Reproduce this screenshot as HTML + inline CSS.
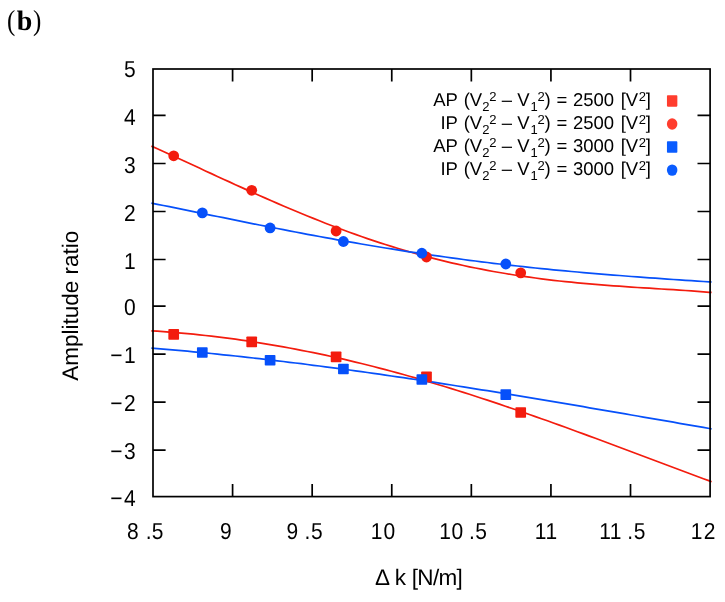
<!DOCTYPE html>
<html><head><meta charset="utf-8"><title>b</title>
<style>
html,body{margin:0;padding:0;background:#fff;}
body{width:725px;height:602px;overflow:hidden;}
svg{display:block;will-change:transform;}
text{font-family:"Liberation Sans",sans-serif;fill:#000;text-rendering:geometricPrecision;}
.ser{font-family:"Liberation Serif",serif;}
.m{text-anchor:middle;}
</style></head><body>
<svg width="725" height="602" viewBox="0 0 725 602">
<rect width="725" height="602" fill="#fff"/>
<text class="ser" transform="translate(7.1 30) scale(0.86 1)" font-size="29">(</text><text class="ser" x="16.8" y="30" font-size="28" font-weight="bold">b</text><text class="ser" transform="translate(33.0 30) scale(0.86 1)" font-size="29">)</text>
<g fill="none" stroke-width="1.70" stroke-linejoin="round">
<path stroke="#f31c0e" d="M151.4 330.8 L157.4 331.2 L163.4 331.6 L169.4 332.1 L175.4 332.6 L181.4 333.1 L187.4 333.6 L193.4 334.2 L199.4 334.8 L205.4 335.5 L211.4 336.2 L217.4 336.9 L223.4 337.6 L229.4 338.4 L235.4 339.2 L241.4 340.1 L247.4 340.9 L253.4 341.9 L259.4 342.8 L265.4 343.8 L271.4 344.8 L277.4 345.8 L283.4 346.9 L289.4 348.0 L295.4 349.1 L301.4 350.3 L307.4 351.5 L313.4 352.7 L319.4 353.9 L325.4 355.2 L331.4 356.5 L337.4 357.9 L343.4 359.2 L349.4 360.6 L355.4 362.1 L361.4 363.5 L367.4 365.0 L373.4 366.5 L379.4 368.1 L385.4 369.6 L391.4 371.2 L397.4 372.9 L403.4 374.5 L409.4 376.2 L415.4 377.9 L421.4 379.6 L427.4 381.4 L433.4 383.2 L439.4 385.0 L445.4 386.8 L451.4 388.6 L457.4 390.5 L463.4 392.4 L469.4 394.3 L475.4 396.2 L481.4 398.2 L487.4 400.1 L493.4 402.1 L499.4 404.1 L505.4 406.2 L511.4 408.2 L517.4 410.3 L523.4 412.4 L529.4 414.5 L535.4 416.6 L541.4 418.7 L547.4 420.8 L553.4 423.0 L559.4 425.1 L565.4 427.3 L571.4 429.5 L577.4 431.7 L583.4 433.9 L589.4 436.1 L595.4 438.3 L601.4 440.5 L607.4 442.8 L613.4 445.0 L619.4 447.3 L625.4 449.5 L631.4 451.8 L637.4 454.0 L643.4 456.3 L649.4 458.5 L655.4 460.8 L661.4 463.0 L667.4 465.3 L673.4 467.5 L679.4 469.8 L685.4 472.0 L691.4 474.2 L697.4 476.5 L703.4 478.7 L709.4 480.9 L711.6 481.7"/>
<path stroke="#f31c0e" d="M151.4 146.1 L157.4 148.8 L163.4 151.5 L169.4 154.3 L175.4 157.0 L181.4 159.8 L187.4 162.5 L193.4 165.3 L199.4 168.1 L205.4 170.9 L211.4 173.6 L217.4 176.4 L223.4 179.2 L229.4 181.9 L235.4 184.7 L241.4 187.4 L247.4 190.1 L253.4 192.8 L259.4 195.5 L265.4 198.1 L271.4 200.8 L277.4 203.4 L283.4 206.0 L289.4 208.5 L295.4 211.0 L301.4 213.5 L307.4 216.0 L313.4 218.4 L319.4 220.8 L325.4 223.2 L331.4 225.5 L337.4 227.8 L343.4 230.0 L349.4 232.2 L355.4 234.4 L361.4 236.5 L367.4 238.6 L373.4 240.6 L379.4 242.6 L385.4 244.5 L391.4 246.4 L397.4 248.3 L403.4 250.1 L409.4 251.8 L415.4 253.5 L421.4 255.2 L427.4 256.8 L433.4 258.4 L439.4 259.9 L445.4 261.4 L451.4 262.8 L457.4 264.2 L463.4 265.5 L469.4 266.8 L475.4 268.0 L481.4 269.2 L487.4 270.4 L493.4 271.5 L499.4 272.5 L505.4 273.5 L511.4 274.5 L517.4 275.5 L523.4 276.4 L529.4 277.2 L535.4 278.0 L541.4 278.8 L547.4 279.6 L553.4 280.3 L559.4 281.0 L565.4 281.6 L571.4 282.2 L577.4 282.8 L583.4 283.4 L589.4 283.9 L595.4 284.4 L601.4 284.9 L607.4 285.4 L613.4 285.8 L619.4 286.2 L625.4 286.7 L631.4 287.1 L637.4 287.5 L643.4 287.8 L649.4 288.2 L655.4 288.6 L661.4 289.0 L667.4 289.4 L673.4 289.7 L679.4 290.1 L685.4 290.5 L691.4 290.9 L697.4 291.4 L703.4 291.8 L709.4 292.3 L711.6 292.4"/>
<path stroke="#0650fa" d="M151.4 348.1 L157.4 348.6 L163.4 349.1 L169.4 349.6 L175.4 350.1 L181.4 350.7 L187.4 351.2 L193.4 351.8 L199.4 352.4 L205.4 352.9 L211.4 353.5 L217.4 354.2 L223.4 354.8 L229.4 355.4 L235.4 356.0 L241.4 356.7 L247.4 357.4 L253.4 358.0 L259.4 358.7 L265.4 359.4 L271.4 360.1 L277.4 360.8 L283.4 361.5 L289.4 362.3 L295.4 363.0 L301.4 363.7 L307.4 364.5 L313.4 365.3 L319.4 366.0 L325.4 366.8 L331.4 367.6 L337.4 368.4 L343.4 369.2 L349.4 370.0 L355.4 370.8 L361.4 371.7 L367.4 372.5 L373.4 373.4 L379.4 374.2 L385.4 375.1 L391.4 376.0 L397.4 376.8 L403.4 377.7 L409.4 378.6 L415.4 379.5 L421.4 380.4 L427.4 381.3 L433.4 382.2 L439.4 383.1 L445.4 384.1 L451.4 385.0 L457.4 386.0 L463.4 386.9 L469.4 387.8 L475.4 388.8 L481.4 389.8 L487.4 390.7 L493.4 391.7 L499.4 392.7 L505.4 393.7 L511.4 394.6 L517.4 395.6 L523.4 396.6 L529.4 397.6 L535.4 398.6 L541.4 399.6 L547.4 400.6 L553.4 401.6 L559.4 402.7 L565.4 403.7 L571.4 404.7 L577.4 405.7 L583.4 406.7 L589.4 407.8 L595.4 408.8 L601.4 409.8 L607.4 410.8 L613.4 411.9 L619.4 412.9 L625.4 413.9 L631.4 415.0 L637.4 416.0 L643.4 417.1 L649.4 418.1 L655.4 419.1 L661.4 420.2 L667.4 421.2 L673.4 422.2 L679.4 423.3 L685.4 424.3 L691.4 425.4 L697.4 426.4 L703.4 427.4 L709.4 428.5 L711.6 428.8"/>
<path stroke="#0650fa" d="M151.4 203.1 L157.4 204.3 L163.4 205.5 L169.4 206.7 L175.4 207.9 L181.4 209.2 L187.4 210.4 L193.4 211.6 L199.4 212.8 L205.4 214.1 L211.4 215.3 L217.4 216.5 L223.4 217.7 L229.4 218.9 L235.4 220.2 L241.4 221.4 L247.4 222.6 L253.4 223.8 L259.4 225.0 L265.4 226.1 L271.4 227.3 L277.4 228.5 L283.4 229.7 L289.4 230.8 L295.4 232.0 L301.4 233.1 L307.4 234.3 L313.4 235.4 L319.4 236.5 L325.4 237.6 L331.4 238.7 L337.4 239.8 L343.4 240.8 L349.4 241.9 L355.4 242.9 L361.4 244.0 L367.4 245.0 L373.4 246.0 L379.4 247.0 L385.4 248.0 L391.4 248.9 L397.4 249.9 L403.4 250.8 L409.4 251.8 L415.4 252.7 L421.4 253.6 L427.4 254.5 L433.4 255.3 L439.4 256.2 L445.4 257.0 L451.4 257.9 L457.4 258.7 L463.4 259.5 L469.4 260.3 L475.4 261.0 L481.4 261.8 L487.4 262.5 L493.4 263.3 L499.4 264.0 L505.4 264.7 L511.4 265.4 L517.4 266.0 L523.4 266.7 L529.4 267.3 L535.4 268.0 L541.4 268.6 L547.4 269.2 L553.4 269.8 L559.4 270.4 L565.4 270.9 L571.4 271.5 L577.4 272.0 L583.4 272.6 L589.4 273.1 L595.4 273.6 L601.4 274.1 L607.4 274.6 L613.4 275.1 L619.4 275.5 L625.4 276.0 L631.4 276.5 L637.4 276.9 L643.4 277.4 L649.4 277.8 L655.4 278.2 L661.4 278.7 L667.4 279.1 L673.4 279.5 L679.4 279.9 L685.4 280.3 L691.4 280.7 L697.4 281.1 L703.4 281.5 L709.4 281.9 L711.6 282.0"/>
</g>
<g stroke="#000" stroke-width="1.70" fill="none" stroke-linecap="butt">
<rect x="153.00" y="69.00" width="557.10" height="427.60"/>
<path d="M153.00 115.40 h12.60 M710.10 115.40 h-12.60"/>
<path d="M153.00 163.50 h12.60 M710.10 163.50 h-12.60"/>
<path d="M153.00 211.50 h12.60 M710.10 211.50 h-12.60"/>
<path d="M153.00 259.50 h12.60 M710.10 259.50 h-12.60"/>
<path d="M153.00 306.05 h12.60 M710.10 306.05 h-12.60"/>
<path d="M153.00 354.05 h12.60 M710.10 354.05 h-12.60"/>
<path d="M153.00 402.10 h12.60 M710.10 402.10 h-12.60"/>
<path d="M153.00 450.10 h12.60 M710.10 450.10 h-12.60"/>
<path d="M232.59 496.60 v-12.60 M232.59 69.00 v12.60"/>
<path d="M312.17 496.60 v-12.60 M312.17 69.00 v12.60"/>
<path d="M391.76 496.60 v-12.60 M391.76 69.00 v12.60"/>
<path d="M471.34 496.60 v-12.60 M471.34 69.00 v12.60"/>
<path d="M550.93 496.60 v-12.60 M550.93 69.00 v12.60"/>
<path d="M630.51 496.60 v-12.60 M630.51 69.00 v12.60"/>
</g>
<g font-size="21" class="m" transform="scale(1 1.1)">
<text x="129.85" y="69.73">5</text>
<text x="129.85" y="113.36">4</text>
<text x="129.85" y="157.09">3</text>
<text x="129.85" y="200.73">2</text>
<text x="129.85" y="244.36">1</text>
<text x="129.85" y="286.68">0</text>
<text x="129.85" y="330.32">1</text>
<text x="116.5" y="330.32">−</text>
<text x="129.85" y="374.00">2</text>
<text x="116.5" y="374.00">−</text>
<text x="129.85" y="417.64">3</text>
<text x="116.5" y="417.64">−</text>
<text x="129.85" y="459.91">4</text>
<text x="116.5" y="459.91">−</text>
<text x="132.90" y="489.64">8</text>
<text x="148.55" y="489.64">.</text>
<text x="157.65" y="489.64">5</text>
<text x="225.80" y="489.64">9</text>
<text x="292.25" y="489.64">9</text>
<text x="307.35" y="489.64">.</text>
<text x="316.85" y="489.64">5</text>
<text x="376.70" y="489.64">1</text>
<text x="389.24" y="489.64">0</text>
<text x="445.05" y="489.64">1</text>
<text x="457.30" y="489.64">0</text>
<text x="471.85" y="489.64">.</text>
<text x="481.10" y="489.64">5</text>
<text x="540.65" y="489.64">1</text>
<text x="551.40" y="489.64">1</text>
<text x="605.05" y="489.64">1</text>
<text x="615.67" y="489.64">1</text>
<text x="630.20" y="489.64">.</text>
<text x="639.50" y="489.64">5</text>
<text x="696.65" y="489.64">1</text>
<text x="709.65" y="489.64">2</text>
</g>
<g font-size="22.5">
<text x="375.0" y="585.4">Δ</text>
<text x="394.8" y="585.4">k</text>
<text x="411.7" y="585.4" letter-spacing="-0.65">[N/m]</text>
</g>
<text transform="translate(78.0 380.8) rotate(-90)" font-size="22.5">Amplitude ratio</text>
<rect x="168.35" y="329.05" width="10.70" height="10.70" rx="0.8" fill="#f31c0e"/>
<rect x="246.35" y="336.55" width="10.70" height="10.70" rx="0.8" fill="#f31c0e"/>
<rect x="330.75" y="351.55" width="10.70" height="10.70" rx="0.8" fill="#f31c0e"/>
<rect x="421.15" y="371.55" width="10.70" height="10.70" rx="0.8" fill="#f31c0e"/>
<rect x="515.35" y="407.15" width="10.70" height="10.70" rx="0.8" fill="#f31c0e"/>
<ellipse cx="173.70" cy="155.80" rx="5.40" ry="5.40" fill="#f31c0e"/>
<ellipse cx="251.70" cy="190.30" rx="5.40" ry="5.40" fill="#f31c0e"/>
<ellipse cx="336.10" cy="231.00" rx="5.40" ry="5.40" fill="#f31c0e"/>
<ellipse cx="426.50" cy="257.00" rx="5.40" ry="5.40" fill="#f31c0e"/>
<ellipse cx="520.70" cy="272.85" rx="5.40" ry="5.40" fill="#f31c0e"/>
<rect x="196.95" y="347.15" width="10.70" height="10.70" rx="0.8" fill="#0650fa"/>
<rect x="264.75" y="354.90" width="10.70" height="10.70" rx="0.8" fill="#0650fa"/>
<rect x="338.05" y="363.65" width="10.70" height="10.70" rx="0.8" fill="#0650fa"/>
<rect x="416.50" y="374.15" width="10.70" height="10.70" rx="0.8" fill="#0650fa"/>
<rect x="500.45" y="389.25" width="10.70" height="10.70" rx="0.8" fill="#0650fa"/>
<ellipse cx="202.30" cy="212.85" rx="5.40" ry="5.40" fill="#0650fa"/>
<ellipse cx="270.10" cy="227.95" rx="5.40" ry="5.40" fill="#0650fa"/>
<ellipse cx="343.40" cy="241.50" rx="5.40" ry="5.40" fill="#0650fa"/>
<ellipse cx="421.85" cy="253.20" rx="5.40" ry="5.40" fill="#0650fa"/>
<ellipse cx="505.80" cy="264.00" rx="5.40" ry="5.40" fill="#0650fa"/>
<g font-size="18.5"><text x="433.26" y="106.25">AP</text><text x="463.65" y="106.25">(V</text><text x="482.37" y="110.75" font-size="13">2</text><text x="489.27" y="100.85" font-size="13">2</text><text x="501.70" y="106.25">–</text><text x="517.32" y="106.25">V</text><text x="530.55" y="110.75" font-size="13">1</text><text x="537.47" y="100.85" font-size="13">2</text><text x="544.50" y="106.25">)</text><text x="556.50" y="106.25">=</text><text x="572.97" y="106.25">2500</text><text x="620.68" y="106.25">[V</text><text x="638.67" y="100.85" font-size="13">2</text><text x="645.86" y="106.25">]</text></g>
<rect x="666.95" y="95.25" width="10.40" height="11.40" rx="0.8" fill="#ff3d2e"/>
<g font-size="18.5"><text x="440.46" y="129.30">IP</text><text x="463.65" y="129.30">(V</text><text x="482.37" y="133.80" font-size="13">2</text><text x="489.27" y="123.90" font-size="13">2</text><text x="501.70" y="129.30">–</text><text x="517.32" y="129.30">V</text><text x="530.55" y="133.80" font-size="13">1</text><text x="537.47" y="123.90" font-size="13">2</text><text x="544.50" y="129.30">)</text><text x="556.50" y="129.30">=</text><text x="572.97" y="129.30">2500</text><text x="620.68" y="129.30">[V</text><text x="638.67" y="123.90" font-size="13">2</text><text x="645.86" y="129.30">]</text></g>
<ellipse cx="672.15" cy="124.00" rx="5.25" ry="5.70" fill="#ff3d2e"/>
<g font-size="18.5"><text x="433.26" y="152.30">AP</text><text x="463.65" y="152.30">(V</text><text x="482.37" y="156.80" font-size="13">2</text><text x="489.27" y="146.90" font-size="13">2</text><text x="501.70" y="152.30">–</text><text x="517.32" y="152.30">V</text><text x="530.55" y="156.80" font-size="13">1</text><text x="537.47" y="146.90" font-size="13">2</text><text x="544.50" y="152.30">)</text><text x="556.50" y="152.30">=</text><text x="572.97" y="152.30">3000</text><text x="620.68" y="152.30">[V</text><text x="638.67" y="146.90" font-size="13">2</text><text x="645.86" y="152.30">]</text></g>
<rect x="666.95" y="141.30" width="10.40" height="11.40" rx="0.8" fill="#0a5cff"/>
<g font-size="18.5"><text x="440.46" y="175.40">IP</text><text x="463.65" y="175.40">(V</text><text x="482.37" y="179.90" font-size="13">2</text><text x="489.27" y="170.00" font-size="13">2</text><text x="501.70" y="175.40">–</text><text x="517.32" y="175.40">V</text><text x="530.55" y="179.90" font-size="13">1</text><text x="537.47" y="170.00" font-size="13">2</text><text x="544.50" y="175.40">)</text><text x="556.50" y="175.40">=</text><text x="572.97" y="175.40">3000</text><text x="620.68" y="175.40">[V</text><text x="638.67" y="170.00" font-size="13">2</text><text x="645.86" y="175.40">]</text></g>
<ellipse cx="672.15" cy="170.10" rx="5.25" ry="5.70" fill="#0a5cff"/>
</svg></body></html>
